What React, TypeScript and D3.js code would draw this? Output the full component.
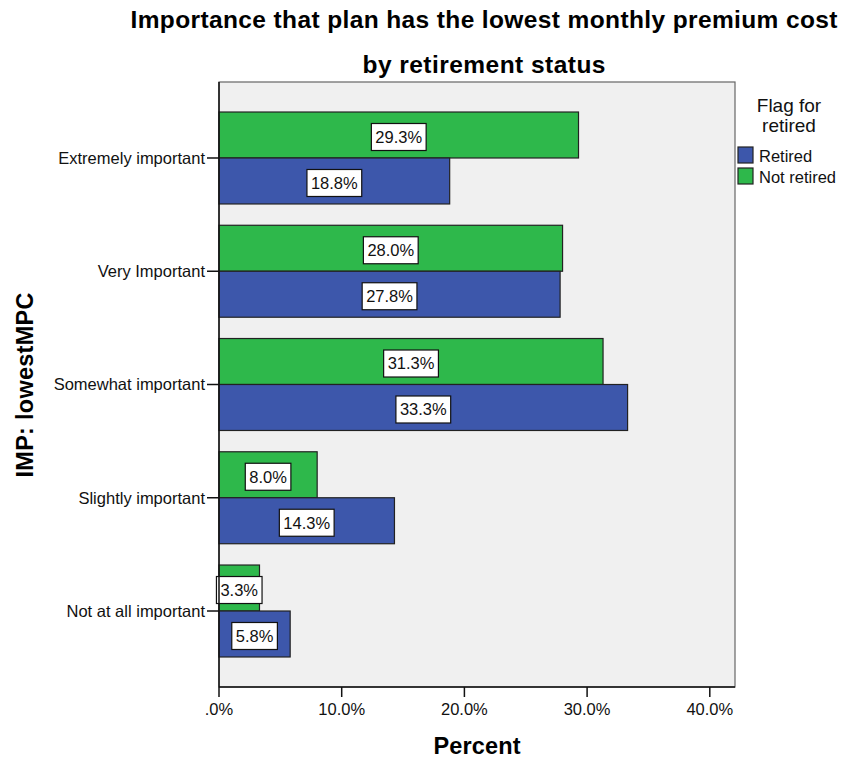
import React from "react";
import * as d3 from "d3";

const categories = [
  "Extremely important",
  "Very Important",
  "Somewhat important",
  "Slightly important",
  "Not at all important",
];
const groups = ["Not retired", "Retired"];
const notRetired = [29.3, 28.0, 31.3, 8.0, 3.3];
const retired = [18.8, 27.8, 33.3, 14.3, 5.8];
const xTicks = [0, 10, 20, 30, 40];
const legendItems = ["Retired", "Not retired"];

const colors: Record<string, string> = {
  Retired: "#3d57ab",
  "Not retired": "#2eb84b",
};

const charW: Record<string, number> = { ".": 0.278, "%": 0.889 };
function textW(s: string, fs: number) {
  let w = 0;
  for (const c of s) w += charW[c] ?? 0.556;
  return w * fs;
}

export default function App() {
  const W = 843, H = 759;
  const left = 219, right = 735, top = 82, bottom = 687;
  const x = d3.scaleLinear().domain([0, (right - left) / 12.27]).range([left, right]);
  const y = d3.scaleBand<string>().domain(categories).range([top, bottom]).paddingInner(0.188).paddingOuter(0.265);
  const sub = d3.scaleBand<string>().domain(groups).range([0, y.bandwidth()]);
  const fmtTick = (v: number) => (v === 0 ? ".0%" : v.toFixed(1) + "%");
  const data = categories.map((c, i) => ({ c, vals: { "Not retired": notRetired[i], Retired: retired[i] } as Record<string, number> }));
  const fs = 16.5;
  const font = "'Liberation Sans', Arial, sans-serif";

  return (
    <svg width={W} height={H} style={{ position: "absolute", left: 0, top: 0, background: "#fff" }} fontFamily={font}>
      <text x={484} y={28} textAnchor="middle" fontWeight="bold" fontSize={24.5} textLength={707} lengthAdjust="spacing">
        Importance that plan has the lowest monthly premium cost
      </text>
      <text x={484} y={73} textAnchor="middle" fontWeight="bold" fontSize={24.5} textLength={243} lengthAdjust="spacing">
        by retirement status
      </text>
      <rect x={left} y={top} width={right - left} height={bottom - top} fill="#f0f0f0" stroke="#666" strokeWidth={1.2} />
      {data.map((d) =>
        groups.map((g) => {
          const yy = (y(d.c) ?? 0) + (sub(g) ?? 0);
          const v = d.vals[g];
          const bw = x(v) - x(0);
          const lab = v.toFixed(1) + "%";
          const tw = textW(lab, fs);
          const cx = x(0) + bw / 2;
          const cy = yy + sub.bandwidth() / 2 + 2;
          return (
            <g key={d.c + g}>
              <rect x={x(0)} y={yy} width={bw} height={sub.bandwidth()} fill={colors[g]} stroke="#222" strokeWidth={1.2} />
              <rect x={cx - tw / 2 - 4} y={cy - 13.5} width={tw + 8} height={27} fill="#fff" stroke="#111" strokeWidth={1.2} />
              <text x={cx} y={cy} dy="0.35em" textAnchor="middle" fontSize={fs} fill="#111">{lab}</text>
            </g>
          );
        })
      )}
      {/* y axis */}
      <line x1={left} x2={left} y1={top} y2={bottom} stroke="#111" strokeWidth={1.5} />
      {categories.map((c) => {
        const cy = (y(c) ?? 0) + y.bandwidth() / 2;
        return (
          <g key={c}>
            <line x1={left - 12} x2={left} y1={cy} y2={cy} stroke="#111" strokeWidth={1.5} />
            <text x={left - 14} y={cy} dy="0.35em" textAnchor="end" fontSize={fs} fill="#111">{c}</text>
          </g>
        );
      })}
      {/* x axis */}
      <line x1={left} x2={right} y1={bottom} y2={bottom} stroke="#111" strokeWidth={1.5} />
      {xTicks.map((t) => (
        <g key={t}>
          <line x1={x(t)} x2={x(t)} y1={bottom} y2={bottom + 10} stroke="#111" strokeWidth={1.5} />
          <text x={x(t)} y={715} textAnchor="middle" fontSize={fs} fill="#111">{fmtTick(t)}</text>
        </g>
      ))}
      <text x={477} y={754} textAnchor="middle" fontWeight="bold" fontSize={23.5} textLength={87} lengthAdjust="spacing">Percent</text>
      <text transform="translate(33,385) rotate(-90)" textAnchor="middle" fontWeight="bold" fontSize={23.5} textLength={185} lengthAdjust="spacing">IMP: lowestMPC</text>
      {/* legend */}
      <text x={789} y={112} textAnchor="middle" fontSize={19} fill="#111">Flag for</text>
      <text x={789} y={132} textAnchor="middle" fontSize={19} fill="#111">retired</text>
      {legendItems.map((g, i) => (
        <g key={g}>
          <rect x={738} y={147 + i * 21} width={15} height={16} fill={colors[g]} stroke="#222" strokeWidth={1.2} />
          <text x={759} y={162 + i * 21} fontSize={fs} fill="#111">{g}</text>
        </g>
      ))}
    </svg>
  );
}
